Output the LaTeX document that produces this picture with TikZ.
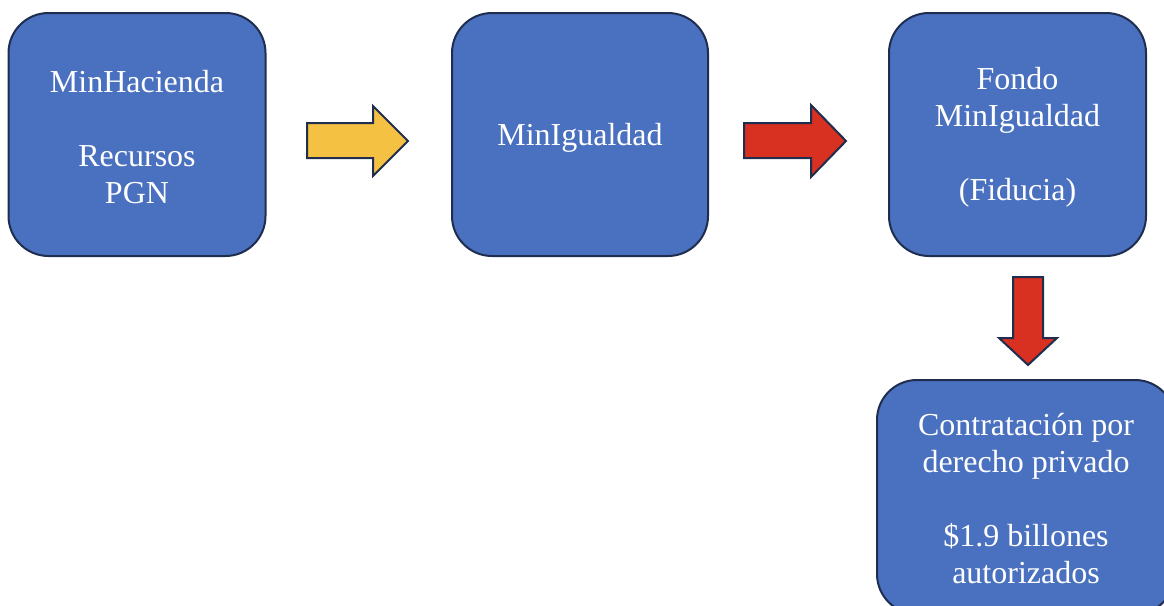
\documentclass[tikz,border=0pt]{standalone}
\usepackage{fontspec}
\setmainfont{Liberation Serif}
\definecolor{boxblue}{RGB}{74,112,192}
\definecolor{navy}{RGB}{31,45,78}
\definecolor{arrowyellow}{RGB}{244,193,66}
\definecolor{arrowred}{RGB}{216,48,33}
\tikzset{
  flowbox/.style={draw=navy, line width=2pt, fill=boxblue, rounded corners=40pt,
    inner sep=0pt},
  boxtext/.style={text=white, align=center, inner sep=0pt,
    font=\fontsize{32}{37}\selectfont},
  blockarrow/.style={draw=navy, line width=2pt, line join=miter}
}
\begin{document}
\begin{tikzpicture}[x=1pt,y=-1pt]
\useasboundingbox (0,0) rectangle (1164,605);
\clip (0,0) rectangle (1164,605);
\node[flowbox, minimum width=257pt, minimum height=243pt] (hacienda) at (137,134.5) {};
\node[boxtext] (hacienda-t) at ([yshift=-3pt]hacienda.center)
  {MinHacienda\\[37pt]Recursos\\PGN};
\node[flowbox, minimum width=256pt, minimum height=243pt] (igualdad) at (580,134.5) {};
\node[boxtext] (igualdad-t) at ([yshift=-3pt]igualdad.center) {MinIgualdad};
\node[flowbox, minimum width=257pt, minimum height=243pt] (fondo) at (1017.5,134.5) {};
\node[boxtext] (fondo-t) at ([yshift=-3pt]fondo.center)
  {Fondo\\MinIgualdad\\[37pt](Fiducia)};
\node[flowbox, minimum width=298pt, minimum height=234pt] (contrata) at (1026,497) {};
\node[boxtext] (contrata-t) at ([yshift=-2pt]contrata.center)
  {Contratación por\\derecho privado\\[37pt]\$1.9 billones\\autorizados};
% yellow arrow
\draw[blockarrow, fill=arrowyellow] (307,123) -- (373,123) -- (373,106) -- (408,141)
  -- (373,176) -- (373,158) -- (307,158) -- cycle;
% red arrow
\draw[blockarrow, fill=arrowred] (744,123) -- (811,123) -- (811,105) -- (846,141)
  -- (811,177) -- (811,158) -- (744,158) -- cycle;
% down arrow
\draw[blockarrow, fill=arrowred] (1013,277) -- (1043,277) -- (1043,338) -- (1057,338)
  -- (1028,365) -- (999,338) -- (1013,338) -- cycle;
\end{tikzpicture}
\end{document}
